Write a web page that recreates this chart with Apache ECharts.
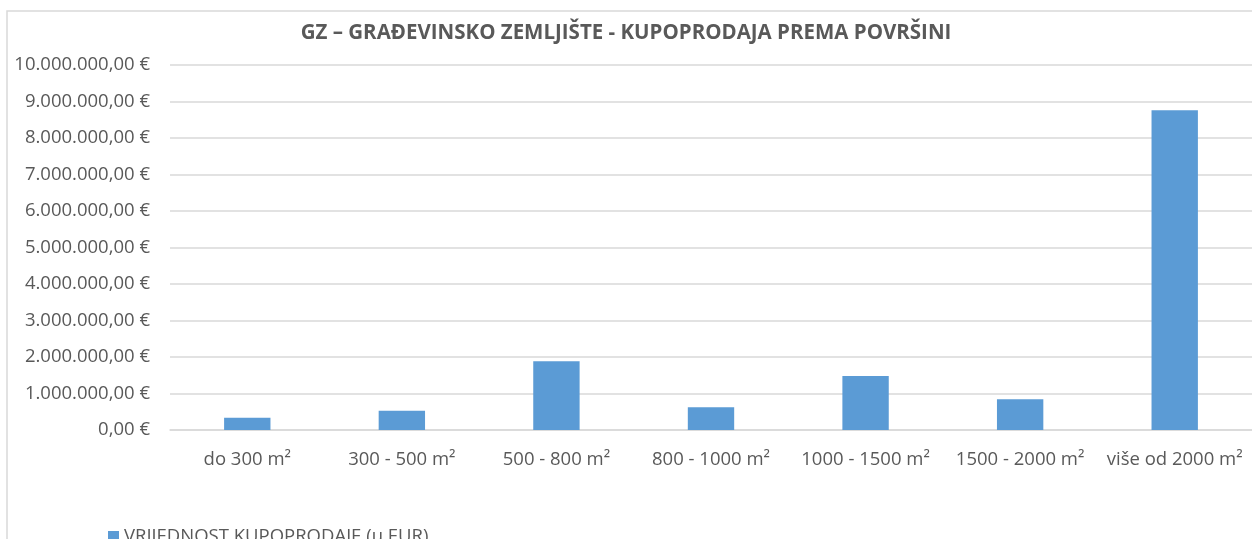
<!DOCTYPE html>
<html>
<head>
<meta charset="utf-8">
<script src="https://cdn.jsdelivr.net/npm/echarts@6/dist/echarts.min.js"></script>
<style>
html,body{margin:0;padding:0;background:#fff;}
#chart{width:1252px;height:539px;}
</style>
</head>
<body>
<div id="chart"></div>
<script>
const categories = ['do 300 m²', '300 - 500 m²', '500 - 800 m²', '800 - 1000 m²', '1000 - 1500 m²', '1500 - 2000 m²', 'više od 2000 m²'];
const values = [333000, 528000, 1885000, 620000, 1478000, 845000, 8760000];
const seriesName = 'VRIJEDNOST KUPOPRODAJE (u EUR)';
const chartTitle = 'GZ – GRAĐEVINSKO ZEMLJIŠTE - KUPOPRODAJA PREMA POVRŠINI';
const yMin = 0, yMax = 10000000, yStep = 1000000;

function fmtEur(v) {
  const parts = Math.round(v).toString().replace(/\B(?=(\d{3})+(?!\d))/g, '.');
  return parts + ',00 €';
}

const FONT = '"Open Sans", sans-serif';
const chart = echarts.init(document.getElementById('chart'), null, {renderer: 'canvas'});
chart.setOption({
  animation: false,
  backgroundColor: '#fff',
  title: {
    text: chartTitle,
    left: 'center',
    top: 18,
    textStyle: {fontFamily: FONT, fontSize: 20.5, fontWeight: 'bold', color: '#595959'}
  },
  graphic: [{
    type: 'rect',
    shape: {x: 7, y: 11, width: 1300, height: 600},
    style: {fill: 'none', stroke: '#d9d9d9', lineWidth: 1.5},
    silent: true
  }],
  legend: {
    left: 103,
    top: 522,
    itemWidth: 11,
    itemHeight: 11,
    itemGap: 6,
    icon: 'rect',
    textStyle: {fontFamily: FONT, fontSize: 18.5, color: '#595959'},
    data: [seriesName]
  },
  grid: {left: 170, top: 65, width: 1085, height: 365, containLabel: false},
  xAxis: {
    type: 'category',
    data: categories,
    axisTick: {show: false},
    axisLine: {lineStyle: {color: '#d9d9d9', width: 1.5}},
    axisLabel: {fontFamily: FONT, fontSize: 18.5, color: '#595959', margin: 20, interval: 0}
  },
  yAxis: {
    type: 'value',
    min: yMin, max: yMax, interval: yStep,
    axisLine: {show: false},
    axisTick: {show: false},
    splitLine: {lineStyle: {color: '#d9d9d9', width: 1.5}},
    axisLabel: {fontFamily: FONT, fontSize: 18.5, color: '#595959', margin: 20, formatter: fmtEur}
  },
  series: [{
    name: seriesName,
    type: 'bar',
    data: values,
    barWidth: '30%',
    itemStyle: {color: '#5b9bd5'}
  }]
});
</script>
</body>
</html>
